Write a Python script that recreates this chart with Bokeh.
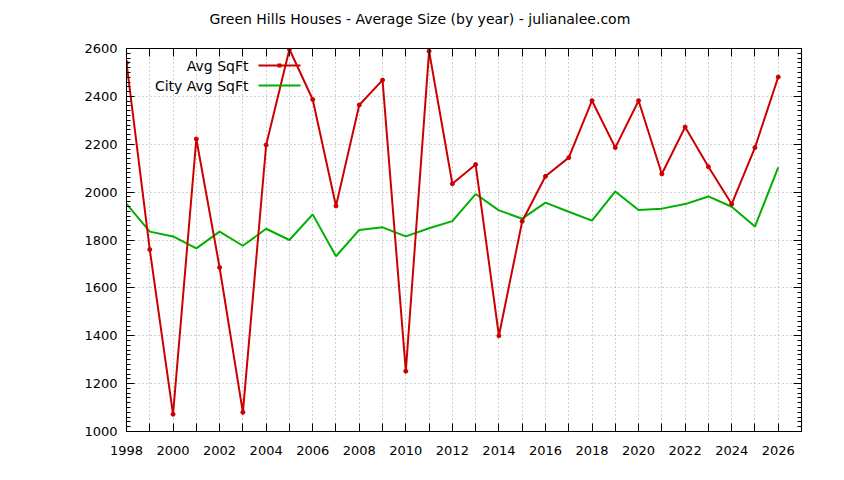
from bokeh.plotting import figure
from bokeh.models import (LinearAxis, FixedTicker, Label, Arrow, Range1d,
                          BoxAnnotation, CustomLabelingPolicy)
from bokeh.embed import file_html
from bokeh.resources import INLINE

# ---- data ----
years = list(range(1998, 2027))
avg_sqft = [2540, 1760, 1072, 2222, 1685, 1080, 2197, 2597, 2387, 1942,
            2364, 2468, 1252, 2589, 2035, 2115, 1400, 1878, 2066, 2144,
            2382, 2186, 2382, 2076, 2272, 2106, 1950, 2186, 2481]
city_avg_sqft = [1951, 1835, 1815, 1765, 1835, 1776, 1847, 1800, 1907, 1732,
                 1842, 1853, 1815, 1849, 1879, 1992, 1924, 1889, 1956, 1918,
                 1881, 2003, 1925, 1931, 1950, 1982, 1939, 1856, 2103]
x_label_ticks = [1998, 2000, 2002, 2004, 2006, 2008, 2010, 2012, 2014, 2016,
                 2018, 2020, 2022, 2024, 2026]
x_odd_ticks = [1999, 2001, 2003, 2005, 2007, 2009, 2011, 2013, 2015, 2017,
               2019, 2021, 2023, 2025, 2027]
y_ticks = [1000, 1200, 1400, 1600, 1800, 2000, 2200, 2400, 2600]
y_minor_ticks = list(range(1000, 2620, 20))
series_names = ["Avg SqFt", "City Avg SqFt"]
title_text = "Green Hills Houses - Average Size (by year) - julianalee.com"

RED = "#cc0000"
GREEN = "#00b000"
FONT = "DejaVu Sans"
FS = "13px"
FS_TEXT = "14px"

p = figure(width=844, height=480, output_backend="svg", toolbar_location=None,
           x_range=Range1d(1998, 2027), y_range=Range1d(1000, 2600),
           min_border_left=126, min_border_right=43, min_border_top=48,
           min_border_bottom=49)
p.background_fill_color = "white"
p.border_fill_color = "white"
p.outline_line_color = "black"
p.outline_line_width = 1

p.title.text = title_text
p.title.text_font = FONT
p.title.text_font_size = FS_TEXT
p.title.text_font_style = "normal"
p.title.text_color = "black"
p.title.align = "left"
p.title.offset = 83
p.title.standoff = 2

x_ticker = FixedTicker(ticks=x_label_ticks, minor_ticks=x_odd_ticks)
y_ticker = FixedTicker(ticks=y_ticks, minor_ticks=y_minor_ticks)

hide_all = CustomLabelingPolicy(code="""
const ids = [...indices]
for (const i of ids) indices.unset(i)
return indices
""")

p.add_layout(LinearAxis(), "right")
p.add_layout(LinearAxis(), "above")

for ax in p.xaxis:
    ax.ticker = x_ticker
    ax.minor_tick_in = 8
for ax in p.yaxis:
    ax.ticker = y_ticker
    ax.minor_tick_in = 4

for ax in p.xaxis + p.yaxis:
    ax.axis_line_color = "black"
    ax.axis_line_width = 1
    ax.major_tick_line_color = "black"
    ax.minor_tick_line_color = "black"
    ax.major_tick_in = 8
    ax.major_tick_out = 0
    ax.minor_tick_out = 0
    ax.major_label_text_font = FONT
    ax.major_label_text_font_size = FS
    ax.major_label_text_color = "black"

for ax in (p.above[0], p.right[0]):
    ax.major_label_policy = hide_all
    ax.major_label_standoff = 0
    ax.major_label_text_font_size = "1px"
p.above[0].major_label_standoff = 17
p.below[0].major_label_standoff = 14
p.left[0].major_label_standoff = 9

p.xgrid.ticker = FixedTicker(ticks=sorted(x_label_ticks + x_odd_ticks))
p.ygrid.ticker = FixedTicker(ticks=y_ticks)
for g in (p.xgrid[0], p.ygrid[0]):
    g.grid_line_color = "#a0a0a0"
    g.grid_line_dash = "1 3"
    g.grid_line_width = 1

p.line(years, city_avg_sqft, line_color=GREEN, line_width=2)
p.line(years, avg_sqft, line_color=RED, line_width=2)
p.scatter(years, avg_sqft, size=4, marker="circle", fill_color=RED,
          line_color=RED)

# legend (gnuplot style: text right-aligned, sample to the right)
for i, (name, col) in enumerate(zip(series_names, [RED, GREEN])):
    yy = 366 - 20 * i
    p.add_layout(Label(x=122, y=yy, x_units="screen", y_units="screen",
                       text=name, text_align="right", text_baseline="middle",
                       text_font=FONT, text_font_size=FS_TEXT,
                       text_color="black"))
    p.add_layout(Arrow(end=None, x_start=132, y_start=yy, x_end=174,
                       y_end=yy, start_units="screen", end_units="screen",
                       line_color=col, line_width=2))
p.add_layout(BoxAnnotation(left=151, right=155, bottom=364, top=368,
                           left_units="screen", right_units="screen",
                           bottom_units="screen", top_units="screen",
                           fill_color=RED, fill_alpha=1, line_color=None))

open("out.html", "w").write(file_html(p, INLINE))
